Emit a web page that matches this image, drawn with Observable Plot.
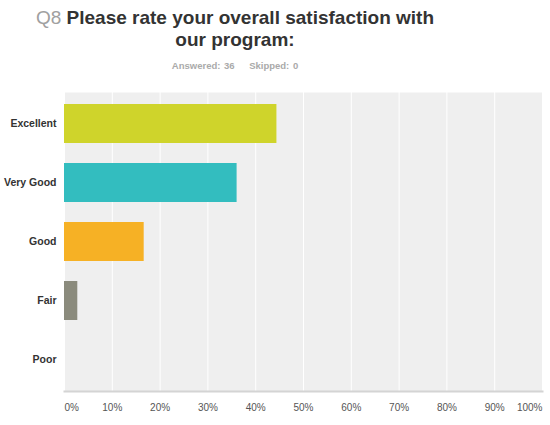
<!DOCTYPE html>
<html>
<head>
<meta charset="utf-8">
<script src="https://cdn.jsdelivr.net/npm/d3@7"></script>
<script src="https://cdn.jsdelivr.net/npm/@observablehq/plot@0.6"></script>
<style>
  body { margin: 0; background: white; font-family: "Liberation Sans", Arial, sans-serif; }
  #head { width: 470px; height: 78px; text-align: center; overflow: hidden; }
  #title { margin: 0; padding-top: 7px; font-size: 19px; font-weight: bold; color: #333; line-height: 22px; }
  #title .q { color: #a0a0a0; font-weight: normal; }
  #sub { margin-top: 9px; font-size: 9.5px; font-weight: bold; color: #aaa; word-spacing: 1px; }
</style>
</head>
<body>
<div id="head">
  <div id="title"><span class="q">Q8</span> Please rate your overall satisfaction with<br>our program:</div>
  <div id="sub">Answered: 36&nbsp;&nbsp;&nbsp;&nbsp;Skipped: 0</div>
</div>
<div id="chart"></div>
<script>
// answer choices and their share of responses (%)
const choices = ["Excellent", "Very Good", "Good", "Fair", "Poor"]
const percents = [44.44, 36.11, 16.67, 2.78, 0]
const colors = ["#cfd42b", "#33bdbf", "#f6b125", "#8b8b7d", "#c0c0c0"]
const ticks = [0, 10, 20, 30, 40, 50, 60, 70, 80, 90, 100]

const data = choices.map((c, i) => ({choice: c, pct: percents[i], color: colors[i]}))

let chart = Plot.plot({
  width: 550,
  height: 347,
  marginLeft: 64,
  marginRight: 8,
  marginTop: 14,
  marginBottom: 34,
  style: {
    fontFamily: "'Liberation Sans', Arial, sans-serif",
    fontSize: "10px",
    color: "#333",
    background: "white"
  },
  x: { domain: [0, 100] },
  y: { domain: choices, paddingInner: 1 / 3, paddingOuter: 1 / 6 },
  marks: [
    Plot.frame({ fill: "#efefef", stroke: null }),
    Plot.gridX(ticks, { stroke: "white", strokeOpacity: 1, strokeWidth: 1 }),
    Plot.barX(data, { x: "pct", y: "choice", fill: "color" }),
    Plot.frame({ anchor: "bottom", stroke: "#d4d4d4", strokeWidth: 2 }),
    Plot.axisY({ tickSize: 0, tickPadding: 8, label: null, fontWeight: "bold", fontSize: 10.5 }),
    Plot.axisX(ticks.slice(1, -1), { tickSize: 0, tickPadding: 12, label: null, tickFormat: d => d + "%", fill: "#555" }),
    Plot.axisX([0], { tickSize: 0, tickPadding: 12, label: null, tickFormat: d => d + "%", textAnchor: "start", fill: "#555" }),
    Plot.axisX([100], { tickSize: 0, tickPadding: 12, label: null, tickFormat: d => d + "%", textAnchor: "end", fill: "#555" })
  ]
})
d3.select("#chart").append(() => chart)
</script>
</body>
</html>
